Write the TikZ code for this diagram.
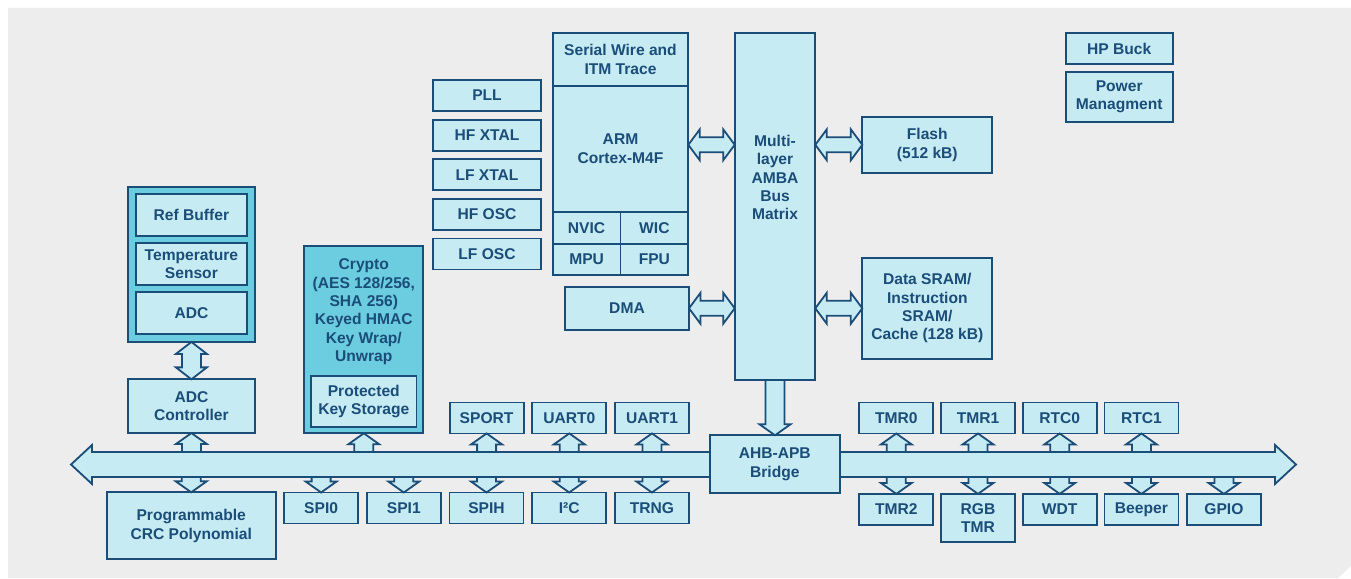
\documentclass[tikz,border=0pt]{standalone}
\usepackage{fontspec}
\setmainfont{Liberation Sans}
\usetikzlibrary{positioning, calc}
\definecolor{panel}{RGB}{237,237,237}
\definecolor{blockfill}{RGB}{198,235,243}
\definecolor{clusterfill}{RGB}{108,204,224}
\definecolor{blockedge}{RGB}{27,77,121}
\tikzset{
  % Plain block
  module/.style={
    rectangle, fill=blockfill, draw=blockedge, line width=1.8pt,
    text=blockedge, font=\bfseries\fontsize{15.6}{18.4}\selectfont,
    align=center, inner sep=0pt, outer sep=0pt
  },
  % Small peripheral block
  smallbox/.style={
    module, minimum width=74pt, minimum height=31pt
  },
  % Clock block
  clockbox/.style={
    module, minimum width=108pt, minimum height=31pt
  },
  % Darker frame holding sub-blocks
  cluster/.style={
    module, fill=clusterfill
  },
  % Free text inside a block
  blocktext/.style={
    text=blockedge, font=\bfseries\fontsize{15.6}{18.4}\selectfont,
    align=center, inner sep=0pt
  },
  % Fat arrow outline, one head (shaft half, head half, head length)
  fatsingle/.style n args={3}{
    to path={let \p1=($(\tikztotarget)!#3!(\tikztostart)$) in
      ($(\tikztostart)!#1!90:(\tikztotarget)$)
      -- ($(\p1)!#1!90:(\tikztotarget)$)
      -- ($(\p1)!#2!90:(\tikztotarget)$)
      -- (\tikztotarget)
      -- ($(\p1)!#2!-90:(\tikztotarget)$)
      -- ($(\p1)!#1!-90:(\tikztotarget)$)
      -- ($(\tikztostart)!#1!-90:(\tikztotarget)$)
      -- cycle}
  },
  % Fat arrow outline, two heads
  fatdouble/.style n args={3}{
    to path={let \p1=($(\tikztostart)!#3!(\tikztotarget)$),
                 \p2=($(\tikztotarget)!#3!(\tikztostart)$) in
      (\tikztostart)
      -- ($(\p1)!#2!90:(\tikztotarget)$)
      -- ($(\p1)!#1!90:(\tikztotarget)$)
      -- ($(\p2)!#1!90:(\tikztotarget)$)
      -- ($(\p2)!#2!90:(\tikztotarget)$)
      -- (\tikztotarget)
      -- ($(\p2)!#2!-90:(\tikztotarget)$)
      -- ($(\p2)!#1!-90:(\tikztotarget)$)
      -- ($(\p1)!#1!-90:(\tikztotarget)$)
      -- ($(\p1)!#2!-90:(\tikztotarget)$)
      -- cycle}
  },
  fatbase/.style={
    fill=blockfill, draw=blockedge, line width=1.8pt, line join=miter
  },
  % Bus tap (bus -> block)
  tap/.style={fatbase, fatsingle={9.5pt}{15.5pt}{11pt}},
  % Two-way link, horizontal
  link/.style={fatbase, fatdouble={7.5pt}{15.5pt}{11.5pt}},
  % Two-way link, vertical
  vlink/.style={fatbase, fatdouble={9.5pt}{15.5pt}{12pt}},
  % Peripheral bus
  busline/.style={fatbase, fatdouble={12.5pt}{19.5pt}{21pt}},
}

\begin{document}
\begin{tikzpicture}[x=1pt, y=-1pt]

\useasboundingbox (0,0) rectangle (1351,578);
\fill[white] (0,0) rectangle (1351,578);
\fill[panel] (8,8) -- (1351,8) -- (1351,566) -- (1338,578) -- (8,578) -- cycle;

%% ── PERIPHERAL BUS ───────────────────────────────────────────────────────

\coordinate (busL)   at (71,464.5);
\coordinate (busR)   at (1296,464.5);
\coordinate (bustop) at (0,452);
\coordinate (busbot) at (0,477);
\draw[busline] (busL) to (busR);

%% ── CLOCKS ───────────────────────────────────────────────────────────────

\node[clockbox] (pll) at (487,95.5) {PLL};
\node[clockbox, below=8.6pt of pll]    (hfxtal) {HF XTAL};
\node[clockbox, below=8.6pt of hfxtal] (lfxtal) {LF XTAL};
\node[clockbox, below=8.6pt of lfxtal] (hfosc)  {HF OSC};
\node[clockbox, below=8.6pt of hfosc]  (lfosc)  {LF OSC};

%% ── CORE ─────────────────────────────────────────────────────────────────

\node[module, minimum width=135.6pt, minimum height=52.4pt] (swd) at (620.5,59.5)
  {Serial Wire and\\ITM Trace};
\node[module, minimum width=135.6pt, minimum height=126.3pt, below=0pt of swd] (arm)
  {ARM\\Cortex-M4F};
\node[module, minimum width=67.8pt, minimum height=31.6pt, anchor=north west] (nvic)
  at (arm.south west) {NVIC};
\node[module, minimum width=67.8pt, minimum height=31.6pt, anchor=north east] (wic)
  at (arm.south east) {WIC};
\node[module, minimum width=67.8pt, minimum height=31.6pt, below=0pt of nvic] (mpu) {MPU};
\node[module, minimum width=67.8pt, minimum height=31.6pt, below=0pt of wic]  (fpu) {FPU};

\node[module, minimum width=124pt, minimum height=43.3pt] (dma) at (627,308.3) {DMA};

%% ── BUS MATRIX AND MEMORY ────────────────────────────────────────────────

\node[module, minimum width=80.6pt, minimum height=346.7pt] (busmatrix) at (775,206.7) {};
\node[blocktext, anchor=north] (busmatrixtxt) at ([yshift=-101.4pt]busmatrix.north)
  {Multi-\\layer\\AMBA\\Bus\\Matrix};

\node[module, minimum width=130pt, minimum height=56.3pt] (flash) at (927.3,144.8)
  {Flash\\(512 kB)};
\node[module, minimum width=130pt, minimum height=101.2pt] (sram) at (927.3,308.3)
  {Data SRAM/\\Instruction\\SRAM/\\Cache (128 kB)};

%% ── POWER ────────────────────────────────────────────────────────────────

\node[module, minimum width=107pt, minimum height=31pt] (hpbuck) at (1119.2,48.8) {HP Buck};
\node[module, minimum width=107pt, minimum height=50pt, below=7.4pt of hpbuck] (power)
  {Power\\Managment};

%% ── ANALOG ───────────────────────────────────────────────────────────────

\node[cluster, minimum width=127.3pt, minimum height=155.3pt] (adcgrp) at (191.4,264.3) {};
\node[module, minimum width=110.4pt, minimum height=42.6pt] (refbuf) at (191.4,215)
  {Ref Buffer};
\node[module, minimum width=110.4pt, minimum height=42.6pt, below=6.4pt of refbuf] (tempsens)
  {Temperature\\Sensor};
\node[module, minimum width=110.4pt, minimum height=42.6pt, below=6.4pt of tempsens] (adc)
  {ADC};

\node[module, minimum width=127.3pt, minimum height=53.7pt] (adcctl) at (191.4,406.2)
  {ADC\\Controller};

%% ── CRYPTO ───────────────────────────────────────────────────────────────

\node[cluster, minimum width=119pt, minimum height=187pt] (crypto) at (363.8,339.8) {};
\node[blocktext, anchor=north] (cryptotxt) at ([yshift=-12.4pt]crypto.north)
  {Crypto\\(AES 128/256,\\SHA 256)\\Keyed HMAC\\Key Wrap/\\Unwrap};
\node[module, minimum width=105.5pt, minimum height=51.3pt] (keystore) at (363.8,401.4)
  {Protected\\Key Storage};

%% ── LEFT PERIPHERALS ─────────────────────────────────────────────────────

\node[smallbox] (sport) at (486.6,417.9) {SPORT};
\node[smallbox, right=8.7pt of sport] (uart0) {UART0};
\node[smallbox, right=8.7pt of uart0] (uart1) {UART1};

\node[module, minimum width=169pt, minimum height=67pt] (crc) at (191.2,525.8)
  {Programmable\\CRC Polynomial};
\node[smallbox] (spi0) at (321.1,508) {SPI0};
\node[smallbox, right=8.7pt of spi0] (spi1) {SPI1};
\node[smallbox, right=8.7pt of spi1] (spih) {SPIH};
\node[smallbox, right=8.7pt of spih] (i2c)  {I²C};
\node[smallbox, right=8.7pt of i2c]  (trng) {TRNG};

%% ── BRIDGE AND RIGHT PERIPHERALS ─────────────────────────────────────────

\node[module, minimum width=129.6pt, minimum height=58pt] (bridge) at (774.8,464.3)
  {AHB-APB\\Bridge};

\node[smallbox] (tmr0) at (896.3,418) {TMR0};
\node[smallbox, right=7.7pt of tmr0] (tmr1) {TMR1};
\node[smallbox, right=7.7pt of tmr1] (rtc0) {RTC0};
\node[smallbox, right=7.7pt of rtc0] (rtc1) {RTC1};

\node[smallbox, below=60.4pt of tmr0] (tmr2) {TMR2};
\node[smallbox, minimum height=48pt, below=60.4pt of tmr1] (rgbtmr) {RGB\\TMR};
\node[smallbox, below=60.4pt of rtc0] (wdt) {WDT};
\node[smallbox, below=60.4pt of rtc1] (beeper) {Beeper};
\node[smallbox, right=8.5pt of beeper] (gpio) {GPIO};

%% ── MATRIX LINKS ─────────────────────────────────────────────────────────

\draw[link] (arm.east |- flash.west)       to (busmatrix.west |- flash.west);
\draw[link] (dma.east)                     to (busmatrix.west |- dma.east);
\draw[link] (busmatrix.east |- flash.west) to (flash.west);
\draw[link] (busmatrix.east |- sram.west)  to (sram.west);
\draw[tap]  (busmatrix.south)              to (busmatrix.south |- bridge.north);
\draw[vlink] (adcgrp.south)                to (adcctl.north);

%% ── BUS TAPS ─────────────────────────────────────────────────────────────

% above the bus
\draw[tap] (adcctl.south |- bustop) to (adcctl.south);
\draw[tap] (crypto.south |- bustop) to (crypto.south);
\draw[tap] (sport.south |- bustop)  to (sport.south);
\draw[tap] (uart0.south |- bustop)  to (uart0.south);
\draw[tap] (uart1.south |- bustop)  to (uart1.south);
\draw[tap] (tmr0.south |- bustop)   to (tmr0.south);
\draw[tap] (tmr1.south |- bustop)   to (tmr1.south);
\draw[tap] (rtc0.south |- bustop)   to (rtc0.south);
\draw[tap] (rtc1.south |- bustop)   to (rtc1.south);

% below the bus
\draw[tap] (crc.north |- busbot)    to (crc.north);
\draw[tap] (spi0.north |- busbot)   to (spi0.north);
\draw[tap] (spi1.north |- busbot)   to (spi1.north);
\draw[tap] (spih.north |- busbot)   to (spih.north);
\draw[tap] (i2c.north |- busbot)    to (i2c.north);
\draw[tap] (trng.north |- busbot)   to (trng.north);
\draw[tap] (tmr2.north |- busbot)   to (tmr2.north);
\draw[tap] (rgbtmr.north |- busbot) to (rgbtmr.north);
\draw[tap] (wdt.north |- busbot)    to (wdt.north);
\draw[tap] (beeper.north |- busbot) to (beeper.north);
\draw[tap] (gpio.north |- busbot)   to (gpio.north);

\end{tikzpicture}
\end{document}
